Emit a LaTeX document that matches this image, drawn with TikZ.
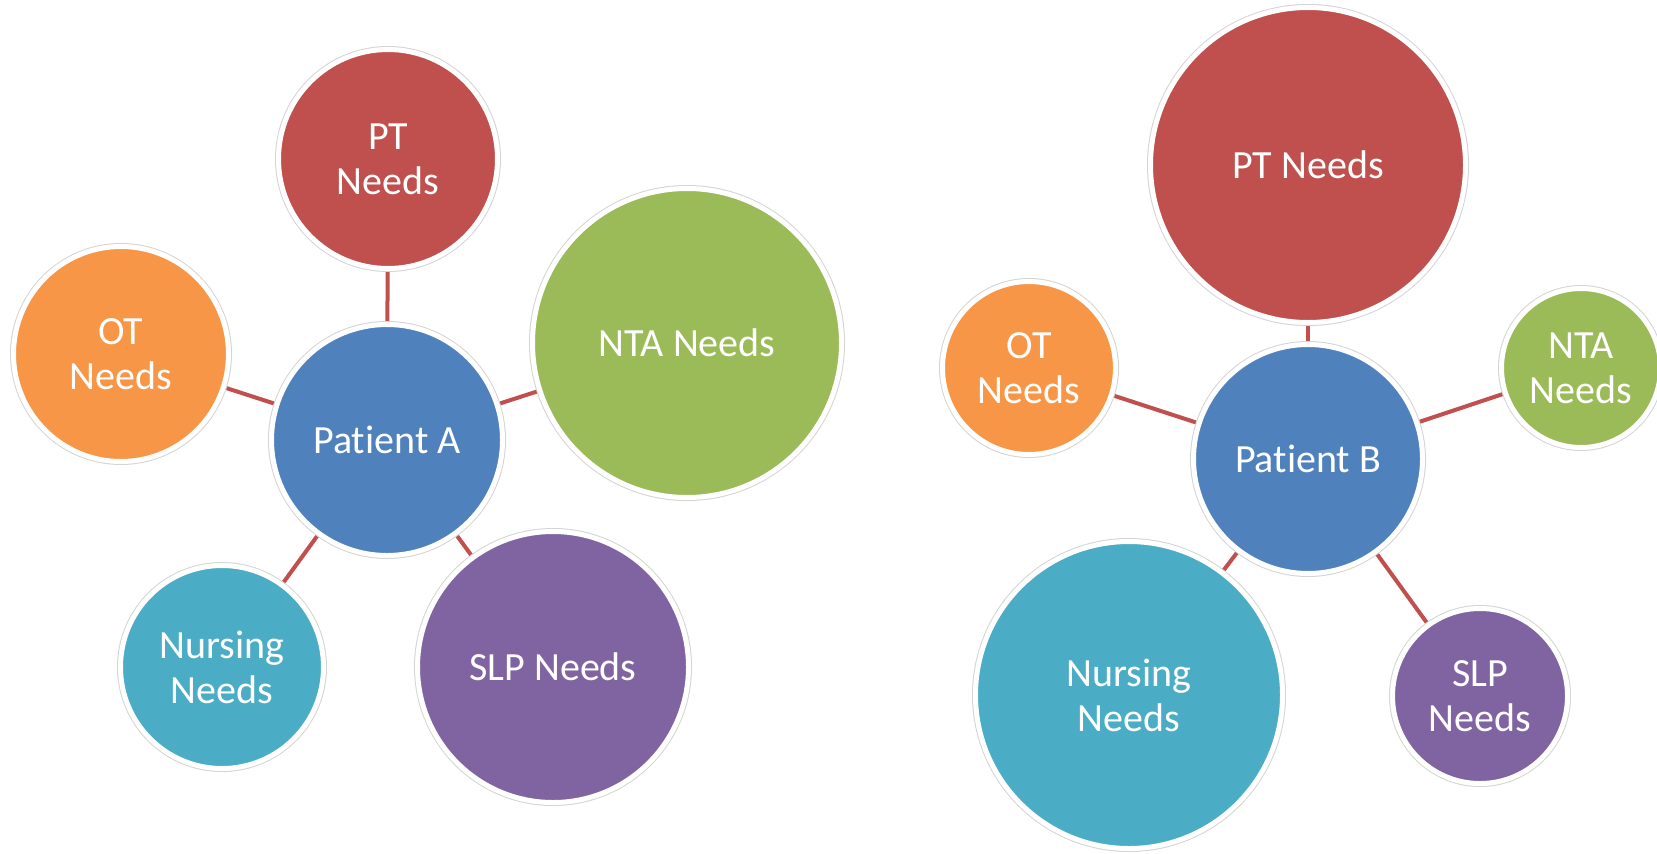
\documentclass[tikz,border=0pt]{standalone}
\usepackage{fontspec}
\setmainfont{Carlito}[Ligatures=NoCommon]
\usetikzlibrary{backgrounds}
\definecolor{cRed}{HTML}{C0504D}
\definecolor{cOrange}{HTML}{F79646}
\definecolor{cGreen}{HTML}{9BBB59}
\definecolor{cBlue}{HTML}{4F81BD}
\definecolor{cAqua}{HTML}{4BACC6}
\definecolor{cPurple}{HTML}{8064A2}
\definecolor{cLink}{HTML}{C0504D}
\definecolor{cRim}{HTML}{D4D4D4}
\tikzset{
  bubble/.style={circle, inner sep=0pt, fill=#1, draw=white, line width=5bp,
    preaction={draw=cRim, line width=7bp},
    text=white, align=center,
    font=\fontsize{40bp}{45bp}\selectfont},
  link/.style={draw=cLink, line width=4bp}
}
\begin{document}
\begin{tikzpicture}[x=1bp,y=-1bp]
\useasboundingbox (0,0) rectangle (1657,853);
% Patient A
\node[bubble=cBlue,   minimum size=231bp] (pa)    at (387,440) {Patient A};
\node[bubble=cRed,    minimum size=219bp] (ptA)   at (388,159) {PT\\Needs};
\node[bubble=cOrange, minimum size=215bp] (otA)   at (121,354) {OT\\Needs};
\node[bubble=cGreen,  minimum size=309bp] (ntaA)  at (687,343) {NTA Needs};
\node[bubble=cAqua,   minimum size=203bp] (nurA)  at (222,667) {Nursing\\Needs};
\node[bubble=cPurple, minimum size=271bp] (slpA)  at (553,667) {SLP Needs};
% Patient B
\node[bubble=cBlue,   minimum size=229bp] (pb)    at (1308,459) {Patient B};
\node[bubble=cRed,    minimum size=315bp] (ptB)   at (1308,165) {PT Needs};
\node[bubble=cOrange, minimum size=173bp] (otB)   at (1029,368) {OT\\Needs};
\node[bubble=cGreen,  minimum size=159bp] (ntaB)  at (1581,368) {NTA\\Needs};
\node[bubble=cAqua,   minimum size=307bp] (nurB)  at (1129,695) {Nursing\\Needs};
\node[bubble=cPurple, minimum size=175bp] (slpB)  at (1480,696) {SLP\\Needs};
\begin{pgfonlayer}{background}
  \foreach \n in {ptA,otA,ntaA,nurA,slpA}
    \draw[link] (pa.center) -- (\n.center);
  \foreach \n in {ptB,otB,ntaB,nurB,slpB}
    \draw[link] (pb.center) -- (\n.center);
\end{pgfonlayer}
\end{tikzpicture}
\end{document}
